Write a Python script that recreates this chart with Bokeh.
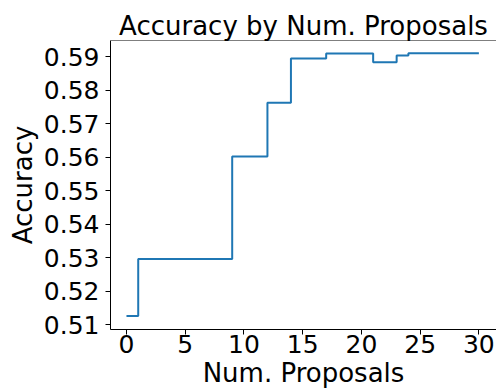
from bokeh.plotting import figure
from bokeh.models import Range1d, FixedTicker, Span
from bokeh.embed import file_html
from bokeh.resources import INLINE

num_proposals = [0, 1, 2, 3, 4, 5, 6, 7, 8, 9, 10, 11, 12, 13, 14, 15,
                 16, 17, 18, 19, 20, 21, 22, 23, 24, 25, 26, 27, 28, 29, 30]
accuracy = [0.5126, 0.5296, 0.5296, 0.5296, 0.5296, 0.5296, 0.5296, 0.5296,
            0.5296, 0.5602, 0.5602, 0.5602, 0.5762, 0.5762, 0.5894, 0.5894,
            0.5894, 0.5909, 0.5909, 0.5909, 0.5909, 0.5883, 0.5883, 0.5903,
            0.5910, 0.5910, 0.5910, 0.5910, 0.5910, 0.5910, 0.5910]
x_ticks = [0, 5, 10, 15, 20, 25, 30]
y_ticks = [0.51, 0.52, 0.53, 0.54, 0.55, 0.56, 0.57, 0.58, 0.59]

FONT = "DejaVu Sans"
y_top = 0.5948

p = figure(width=496, height=391, output_backend="svg", toolbar_location=None,
           title="Accuracy by Num. Proposals",
           x_range=Range1d(-1.36, 31.5), y_range=Range1d(0.5086, y_top),
           min_border_left=110, min_border_right=0, min_border_top=40,
           min_border_bottom=62)

p.step(num_proposals, accuracy, mode="after", line_color="#1f77b4", line_width=2)

p.outline_line_color = None
p.add_layout(Span(location=y_top, dimension="width", line_color="black", line_width=1))

p.grid.visible = False
p.title.text_font = FONT
p.title.text_font_size = "26px"
p.title.text_font_style = "normal"
p.title.align = "center"
p.title.text_color = "black"
p.title.standoff = 0

p.xaxis.axis_label = "Num. Proposals"
p.yaxis.axis_label = "Accuracy"
p.xaxis.ticker = FixedTicker(ticks=x_ticks)
p.yaxis.ticker = FixedTicker(ticks=y_ticks)
p.yaxis.formatter.use_scientific = False
for ax in (p.xaxis, p.yaxis):
    ax.axis_label_text_font = FONT
    ax.axis_label_text_font_size = "26px"
    ax.axis_label_text_font_style = "normal"
    ax.axis_label_text_color = "black"
    ax.major_label_text_font = FONT
    ax.major_label_text_font_size = "25px"
    ax.major_label_text_color = "black"
    ax.axis_line_color = "black"
    ax.major_tick_line_color = "black"
    ax.major_tick_out = 5
    ax.major_tick_in = 0
    ax.minor_tick_line_color = None
p.yaxis.major_label_standoff = 6
p.yaxis.axis_label_standoff = 3
p.xaxis.major_label_standoff = 0
p.xaxis.axis_label_standoff = 2

open("out.html", "w").write(file_html(p, INLINE))
